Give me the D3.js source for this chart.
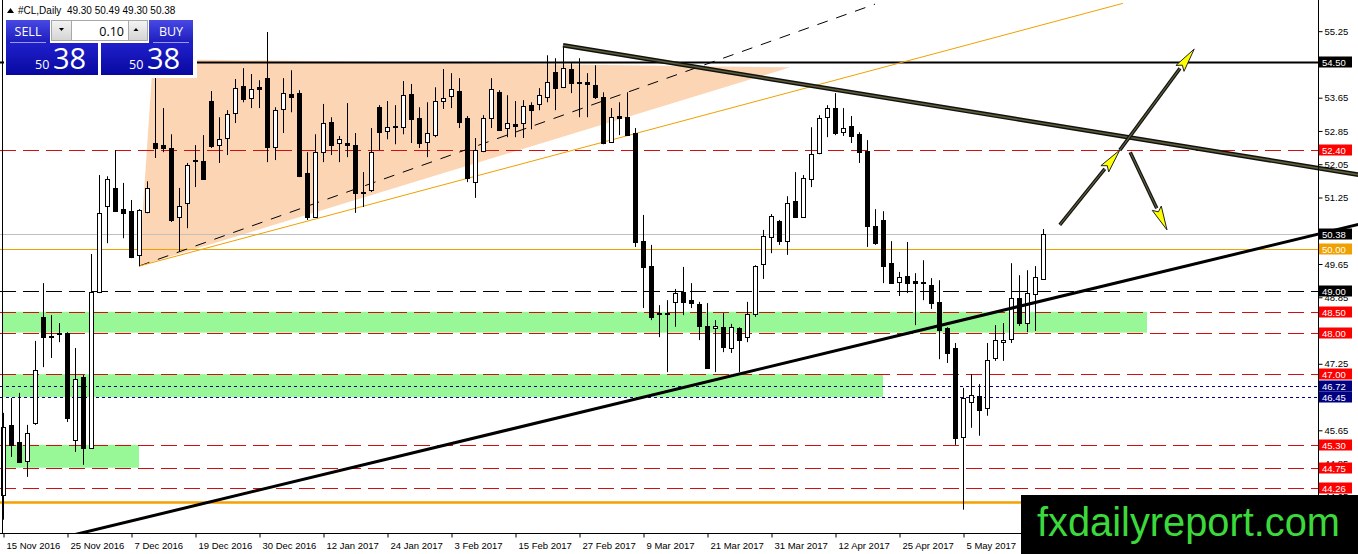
<!DOCTYPE html>
<html>
<head>
<meta charset="utf-8">
<script src="https://d3js.org/d3.v7.min.js"></script>
<style>
  html, body { margin: 0; padding: 0; background: #fff; overflow: hidden; }
  svg { display: block; font-family: "Liberation Sans", Arial, sans-serif; }
</style>
</head>
<body>
<svg id="chart" width="1358" height="554"></svg>
<script>
// #CL Daily — crude oil candles with hand-drawn levels, zones and trendlines

// ── Data ─────────────────────────────────────────────────────────────────────
const dateLabels = ['15 Nov 2016', '25 Nov 2016', '7 Dec 2016', '19 Dec 2016', '30 Dec 2016',
  '12 Jan 2017', '24 Jan 2017', '3 Feb 2017', '15 Feb 2017', '27 Feb 2017', '9 Mar 2017',
  '21 Mar 2017', '31 Mar 2017', '12 Apr 2017', '25 Apr 2017', '5 May 2017'];
const dateTickBars = [0, 8, 16, 24, 32, 40, 48, 56, 64, 72, 80, 88, 96, 104, 112, 120];

const open = [
  44.10,45.77,45.37,44.91,45.83,48.38,47.92,48.00,47.99,45.42,
  46.93,45.23,48.98,51.04,51.48,50.97,50.92,49.87,50.90,52.56,
  52.51,52.44,50.78,51.12,52.13,52.13,53.57,52.51,52.68,53.28,
  53.93,53.64,53.90,54.12,52.46,53.37,53.74,53.76,51.84,50.78,
  52.34,53.06,52.56,52.56,52.51,51.38,51.43,53.42,52.85,52.97,
  52.94,53.74,53.16,52.58,52.75,53.57,53.69,53.81,53.16,51.62,
  52.37,53.16,53.78,52.92,53.02,53.04,53.47,53.50,53.66,54.26,
  53.90,54.34,54.02,54.02,53.95,53.66,52.58,53.21,53.18,52.80,
  50.20,49.60,48.47,48.45,48.74,48.98,48.78,48.69,48.16,48.11,
  48.13,47.63,48.11,47.89,48.45,49.65,50.30,50.68,50.20,51.16,
  50.78,51.69,52.32,53.18,53.40,52.82,52.97,52.77,52.37,50.56,
  50.71,49.67,49.22,49.36,49.24,49.22,49.14,48.74,48.11,47.63,
  45.49,46.33,46.48,46.19,47.39,47.77,47.85,48.83,48.23,48.93,
  49.30];
const high = [
  46.07,46.43,46.55,45.78,47.80,49.19,48.42,48.23,48.01,47.63,
  46.98,49.89,51.79,51.76,52.39,51.60,51.19,50.97,51.64,54.12,
  53.40,52.77,51.48,52.08,52.51,52.75,53.81,53.18,53.35,54.10,
  54.36,54.22,54.07,55.23,53.42,54.12,54.31,53.83,52.34,52.77,
  53.50,53.18,52.73,53.52,52.80,51.86,52.92,53.47,53.57,53.47,
  54.05,53.98,53.42,53.54,53.90,54.34,54.24,54.12,53.21,52.68,
  53.23,54.12,53.83,53.71,53.57,53.59,53.54,53.88,54.67,54.60,
  54.91,54.48,54.60,54.24,54.43,53.78,53.40,53.54,53.78,52.92,
  50.83,50.11,48.66,48.78,49.05,49.58,49.19,48.74,48.71,48.30,
  48.47,48.21,48.13,48.74,49.62,50.47,50.85,50.71,51.28,51.86,
  51.79,52.94,53.23,53.47,53.76,53.40,53.21,52.82,52.63,50.97,
  50.92,50.20,49.46,50.18,49.43,49.74,49.31,49.26,48.13,47.75,
  46.67,47.00,46.76,47.75,48.18,48.23,49.67,49.38,49.50,49.60,
  50.49];
const low = [
  43.50,45.01,44.87,44.53,45.78,47.17,47.39,47.77,45.85,45.13,
  44.82,45.20,48.95,50.15,50.90,50.27,49.79,49.60,50.87,52.20,
  52.34,50.66,49.94,50.51,51.50,51.68,52.44,52.08,52.27,53.04,
  53.54,53.40,53.40,52.10,52.15,52.80,53.30,51.74,50.71,50.76,
  52.10,52.27,52.10,52.22,50.88,51.02,51.38,52.39,52.65,52.53,
  52.77,52.56,52.44,52.22,52.70,53.38,53.40,52.92,51.62,51.24,
  52.34,52.92,52.85,52.70,52.70,52.68,52.89,53.35,53.54,53.35,
  53.88,53.76,53.18,53.18,53.62,52.53,52.56,52.75,52.73,50.06,
  48.59,48.30,47.89,47.05,48.14,48.42,48.59,47.82,47.13,47.05,
  47.53,47.51,47.05,47.77,48.38,49.29,49.91,50.11,49.87,50.76,
  50.76,51.50,52.29,52.70,52.75,52.73,52.56,52.08,50.06,50.11,
  49.19,49.17,48.88,48.95,48.18,48.78,48.57,47.36,47.27,45.30,
  43.74,45.71,45.52,46.00,47.32,47.32,47.75,48.16,48.01,48.04,
  49.30];
const close = [
  45.73,45.30,44.89,45.59,47.10,47.89,47.90,47.97,45.95,46.88,
  45.23,48.98,50.88,51.69,50.92,50.88,49.82,50.95,51.48,52.44,
  52.44,50.71,51.04,52.03,52.15,51.69,52.49,52.65,53.25,53.88,
  53.62,53.86,53.86,52.46,53.35,53.76,53.66,51.76,50.78,52.34,
  53.04,52.51,52.65,52.51,51.36,51.36,52.34,52.82,52.94,52.94,
  53.71,53.13,52.56,52.80,53.57,53.64,53.86,53.06,51.72,52.39,
  53.16,53.86,52.87,53.04,52.97,53.45,53.35,53.71,54.02,53.88,
  54.36,54.00,54.00,53.98,53.66,52.56,53.18,53.16,52.75,50.18,
  49.58,48.38,48.45,48.47,48.95,48.74,48.71,48.16,47.15,48.16,
  47.65,48.13,47.82,48.45,49.60,50.32,50.80,50.20,51.12,50.78,
  51.72,52.29,53.16,53.40,52.80,52.92,52.73,52.34,50.56,50.15,
  49.60,49.19,49.34,49.19,49.19,49.19,48.71,48.06,47.51,45.47,
  46.43,46.50,46.14,47.34,47.82,47.82,48.83,48.23,48.95,49.34,
  50.38];

const priceTicks = [55.25, 54.45, 53.65, 52.85, 52.05, 51.25, 50.45, 49.65,
  48.85, 48.05, 47.25, 46.45, 45.65, 44.85, 44.05];

// horizontal levels
const redLevels   = [52.40, 48.50, 48.00, 47.00, 45.30, 44.75, 44.26];
const navyLevels  = [46.72, 46.45];
const resistance  = 54.50;
const pivotLevel  = 49.00;
const roundLevel  = 50.00;
const floorLevel  = 43.93;

// support zones (price bands, last bar covered)
const zoneTop    = [48.50, 47.00, 45.30];
const zoneBottom = [48.00, 46.45, 44.75];
const zoneEndBar = [143, 110, 17];

// triangle and trendlines as (bar, price) pairs
const triangleBars   = [17, 18.75, 98.4];
const trianglePrices = [49.60, 54.58, 54.38];
const channelBars    = [17, 109];   const channelPrices = [49.60, 55.90];
const orangeBars     = [17, 140];   const orangePrices  = [49.60, 55.92];
const downBars       = [70, 170];   const downPrices    = [54.91, 51.78];
const upBars         = [7, 170];    const upPrices      = [43.05, 50.63];

// scenario arrows
const arrowFromBar   = [132.1, 139.6, 140.9];
const arrowFromPrice = [50.59, 52.39, 52.34];
const arrowToBar     = [139.6, 148.9, 145.5];
const arrowToPrice   = [52.39, 54.82, 50.47];

// ── Layout ───────────────────────────────────────────────────────────────────
const W = 1358, H = 554;
const PLOT_R = 1318, PLOT_B = 533;

const svg = d3.select('#chart');
const x = d3.scaleLinear().domain([0, 130]).range([3, 1043]);
const y = d3.scaleLinear().domain([43.18, 56.0]).range([PLOT_B, 0]);
const last = close.length - 1;

const defs = svg.append('defs');
defs.append('clipPath').attr('id', 'plotClip')
  .append('rect').attr('x', 0).attr('y', 0).attr('width', PLOT_R).attr('height', PLOT_B);
defs.append('clipPath').attr('id', 'rayClip')
  .append('rect').attr('x', 0).attr('y', 0).attr('width', W).attr('height', PLOT_B);

function grad(id, c0, c1) {
  const g = defs.append('linearGradient').attr('id', id)
    .attr('x1', 0).attr('y1', 0).attr('x2', 0).attr('y2', 1);
  g.append('stop').attr('offset', '0%').attr('stop-color', c0);
  g.append('stop').attr('offset', '100%').attr('stop-color', c1);
}
grad('gLabel', '#4848e4', '#1c1cbc');
grad('gBig', '#2020cc', '#0808a0');
grad('gBtn', '#f4f4f4', '#d4d4d4');

const back = svg.append('g').attr('clip-path', 'url(#plotClip)');

// ── Background shapes ────────────────────────────────────────────────────────
back.append('path')
  .attr('d', 'M' + triangleBars.map((b, i) => `${x(b)},${y(trianglePrices[i])}`).join('L') + 'Z')
  .attr('fill', '#fcd6b4');

zoneTop.forEach((t, i) => {
  back.append('rect')
    .attr('x', 3).attr('y', y(t))
    .attr('width', x(zoneEndBar[i]) - 3)
    .attr('height', y(zoneBottom[i]) - y(t))
    .attr('fill', '#98f898');
});

// ── Horizontal levels ────────────────────────────────────────────────────────
function hline(p, color, width, dash) {
  const yy = Math.round(y(p)) + 0.5;
  back.append('line')
    .attr('x1', 0).attr('x2', PLOT_R).attr('y1', yy).attr('y2', yy)
    .attr('stroke', color).attr('stroke-width', width)
    .attr('stroke-dasharray', dash || null);
}
hline(close[last], '#c0c0c0', 1);
hline(roundLevel, '#f0a000', 1);
redLevels.forEach(p => hline(p, '#d01010', 1, '16,7'));
navyLevels.forEach(p => hline(p, '#000080', 1, '3,3'));
hline(pivotLevel, '#000', 1, '16,7');
hline(floorLevel, '#f5a000', 2.5);
hline(resistance, '#000', 2);

// thin channel lines off the triangle apex
const line = d3.line().x(d => x(d[0])).y(d => y(d[1]));
back.append('path')
  .attr('d', line(channelBars.map((b, i) => [b, channelPrices[i]])))
  .attr('fill', 'none').attr('stroke', '#000').attr('stroke-width', 1)
  .attr('stroke-dasharray', '11,9');
back.append('path')
  .attr('d', line(orangeBars.map((b, i) => [b, orangePrices[i]])))
  .attr('fill', 'none').attr('stroke', '#f0a000').attr('stroke-width', 1);

// ── Candles ──────────────────────────────────────────────────────────────────
const cg = back.append('g');
const idx = d3.range(close.length);
cg.selectAll('line.wick').data(idx).enter().append('line')
  .attr('class', 'wick')
  .attr('x1', i => Math.round(x(i)) + 0.5).attr('x2', i => Math.round(x(i)) + 0.5)
  .attr('y1', i => y(high[i])).attr('y2', i => y(low[i]))
  .attr('stroke', '#000').attr('stroke-width', 1);
cg.selectAll('rect.body').data(idx).enter().append('rect')
  .attr('class', 'body')
  .attr('x', i => Math.round(x(i)) - 2 + 0.5)
  .attr('y', i => Math.round(y(Math.max(open[i], close[i]))) + 0.5)
  .attr('width', 4)
  .attr('height', i => Math.max(1, Math.round(Math.abs(y(open[i]) - y(close[i])))))
  .attr('fill', i => close[i] >= open[i] ? '#fff' : '#000')
  .attr('stroke', '#000').attr('stroke-width', 1);

// ── Trendlines ───────────────────────────────────────────────────────────────
const front = svg.append('g').attr('clip-path', 'url(#rayClip)');
front.append('path')
  .attr('d', line(upBars.map((b, i) => [b, upPrices[i]])))
  .attr('stroke', '#000').attr('stroke-width', 3).attr('fill', 'none');
const downD = line(downBars.map((b, i) => [b, downPrices[i]]));
front.append('path').attr('d', downD)
  .attr('stroke', '#111').attr('stroke-width', 4.5).attr('fill', 'none');
front.append('path').attr('d', downD)
  .attr('stroke', '#5e5e38').attr('stroke-width', 1.6).attr('fill', 'none');

function arrow(b0, p0, b1, p1) {
  const x0 = x(b0), y0 = y(p0), x1 = x(b1), y1 = y(p1);
  const L = Math.hypot(x1 - x0, y1 - y0);
  const ux = (x1 - x0) / L, uy = (y1 - y0) / L;
  const hl = 24, hw = 5;
  const bx = x1 - ux * hl, by = y1 - uy * hl;
  front.append('line').attr('x1', x0).attr('y1', y0).attr('x2', bx).attr('y2', by)
    .attr('stroke', '#111').attr('stroke-width', 3.5);
  front.append('line').attr('x1', x0).attr('y1', y0).attr('x2', bx).attr('y2', by)
    .attr('stroke', '#5e5e38').attr('stroke-width', 1.2);
  front.append('path')
    .attr('d', `M${x1},${y1}L${bx - uy * hw},${by + ux * hw}L${x1 - ux * (hl - 4)},${y1 - uy * (hl - 4)}L${bx + uy * hw},${by - ux * hw}Z`)
    .attr('fill', '#ffff00').attr('stroke', '#222').attr('stroke-width', 1);
}
arrowFromBar.forEach((b, i) => arrow(b, arrowFromPrice[i], arrowToBar[i], arrowToPrice[i]));

// ── Axes ─────────────────────────────────────────────────────────────────────
svg.append('line').attr('x1', 2.5).attr('x2', 2.5).attr('y1', 0).attr('y2', PLOT_B)
  .attr('stroke', '#000');

// levels that carry a coloured price tag; a tick label right under one is hidden
const taggedLevels = [...redLevels, ...navyLevels, resistance, pivotLevel, roundLevel, close[last]];
const hiddenTick = t => taggedLevels.some(p => Math.abs(y(p) - y(t)) < 4);

const yAxis = svg.append('g').attr('transform', `translate(${PLOT_R + 0.5},0)`)
  .call(d3.axisRight(y).tickValues(priceTicks)
    .tickFormat(t => hiddenTick(t) ? '' : d3.format('.2f')(t))
    .tickSize(4).tickSizeOuter(0).tickPadding(2));
yAxis.select('.domain').remove();
yAxis.selectAll('text').attr('font-size', '9.5px').attr('font-family', '"Liberation Sans", Arial, sans-serif')
  .attr('fill', '#000');
svg.append('line').attr('x1', PLOT_R + 0.5).attr('x2', PLOT_R + 0.5).attr('y1', 0).attr('y2', PLOT_B)
  .attr('stroke', '#000');

const xAxis = svg.append('g').attr('transform', `translate(0,${PLOT_B + 0.5})`)
  .call(d3.axisBottom(x).tickValues(dateTickBars).tickFormat((d, i) => dateLabels[i])
    .tickSize(4).tickSizeOuter(0));
xAxis.select('.domain').remove();
xAxis.selectAll('.tick line').attr('transform', 'translate(0.5,0)');
xAxis.selectAll('text').attr('text-anchor', 'start').attr('x', 3).attr('dy', '0.9em')
  .attr('font-size', '9.5px').attr('font-family', '"Liberation Sans", Arial, sans-serif')
  .attr('fill', '#000');
svg.append('line').attr('x1', 0).attr('x2', PLOT_R).attr('y1', PLOT_B + 0.5).attr('y2', PLOT_B + 0.5)
  .attr('stroke', '#000');

// price labels for the levels
function priceTag(p, bg) {
  const yy = Math.round(y(p));
  svg.append('rect').attr('x', PLOT_R + 1).attr('y', yy - 5.5).attr('width', 33).attr('height', 11)
    .attr('fill', bg);
  svg.append('text').attr('x', PLOT_R + 4).attr('y', yy + 3.5)
    .attr('font-size', '9.5px').attr('fill', '#fff').text(p.toFixed(2));
}
redLevels.forEach(p => priceTag(p, '#ff0000'));
navyLevels.forEach(p => priceTag(p, '#000080'));
priceTag(resistance, '#000');
priceTag(pivotLevel, '#000');
priceTag(roundLevel, '#f0a000');
priceTag(close[last], '#000');

// ── Header and one-click trading panel ───────────────────────────────────────
svg.append('path').attr('d', 'M7,13L10.5,8L14,13Z').attr('fill', '#000');
svg.append('text').attr('x', 18).attr('y', 14).attr('font-size', '10px').attr('fill', '#000')
  .attr('xml:space', 'preserve')
  .text(`#CL,Daily  ${[open[last], high[last], low[last], close[last]].map(v => v.toFixed(2)).join(' ')}`);

const panel = svg.append('g').attr('font-family', '"Open Sans", "Noto Sans", sans-serif');
panel.append('rect').attr('x', 4).attr('y', 19).attr('width', 193).attr('height', 59).attr('fill', '#fff');
// sell / buy label boxes
[[6, 'SELL'], [149, 'BUY']].forEach(([bx, label]) => {
  panel.append('rect').attr('x', bx).attr('y', 20).attr('width', 44).attr('height', 23).attr('fill', 'url(#gLabel)');
  panel.append('line').attr('x1', bx + 4).attr('x2', bx + 40).attr('y1', 42.5).attr('y2', 42.5)
    .attr('stroke', '#9a9af0').attr('stroke-width', 1);
  panel.append('text').attr('x', bx + 22).attr('y', 36).attr('text-anchor', 'middle')
    .attr('font-size', '12.5px').attr('fill', '#fff').text(label);
});
// lot size spinner
panel.append('rect').attr('x', 51.5).attr('y', 20.5).attr('width', 20).attr('height', 20)
  .attr('fill', 'url(#gBtn)').attr('stroke', '#a8a8a8');
panel.append('rect').attr('x', 71.5).attr('y', 20.5).attr('width', 57).attr('height', 20)
  .attr('fill', '#fff').attr('stroke', '#a8a8a8');
panel.append('rect').attr('x', 128.5).attr('y', 20.5).attr('width', 19).attr('height', 20)
  .attr('fill', 'url(#gBtn)').attr('stroke', '#a8a8a8');
panel.append('path').attr('d', 'M59,28L64,28L61.5,31Z').attr('fill', '#000');
panel.append('path').attr('d', 'M133.5,31L138.5,31L136,28Z').attr('fill', '#000');
panel.append('text').attr('x', 124).attr('y', 35.5).attr('text-anchor', 'end')
  .attr('font-size', '12.5px').attr('fill', '#000').text('0.10');
// big quote boxes
const bid = close[last].toFixed(2);
[[6, 35, 53], [101, 129, 147]].forEach(([bx, sx, lx]) => {
  panel.append('rect').attr('x', bx).attr('y', 43).attr('width', 92).attr('height', 32).attr('fill', 'url(#gBig)');
  panel.append('text').attr('x', sx).attr('y', 69).attr('font-size', '12.5px').attr('fill', '#fff')
    .text(bid.slice(0, 2));
  panel.append('text').attr('x', lx).attr('y', 69).attr('font-size', '29px').attr('fill', '#fff')
    .text(bid.slice(3, 5));
});

// ── Watermark banner ─────────────────────────────────────────────────────────
svg.append('rect').attr('x', 1021).attr('y', 495).attr('width', W - 1021).attr('height', H - 495)
  .attr('fill', '#000');
svg.append('text').attr('x', 1037).attr('y', 536)
  .attr('font-size', '41px').attr('font-family', '"Liberation Sans", Arial, sans-serif')
  .attr('fill', '#3cd93c').attr('textLength', 303).attr('lengthAdjust', 'spacingAndGlyphs')
  .text('fxdailyreport.com');
</script>
</body>
</html>
